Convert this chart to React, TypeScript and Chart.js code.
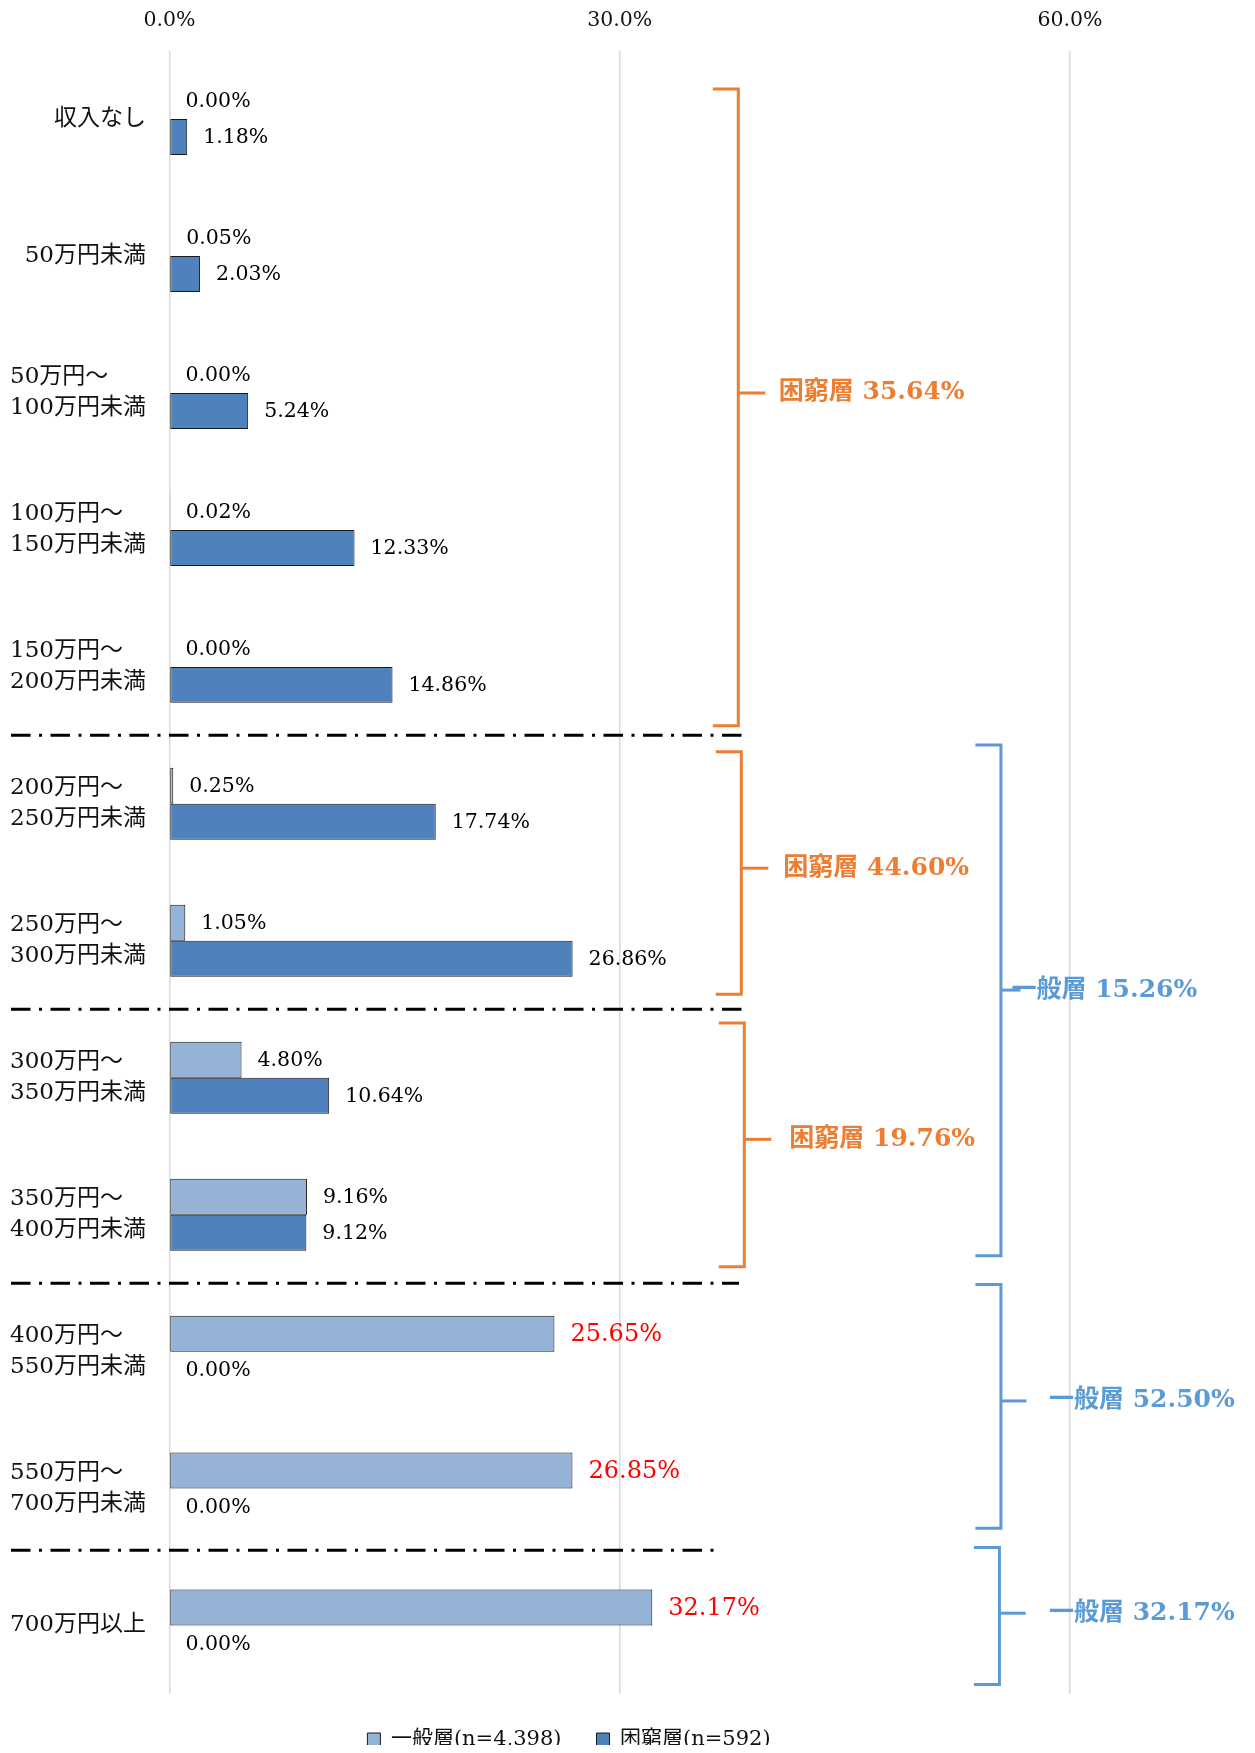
import React, { useEffect, useRef } from 'react';
import { Chart, registerables } from 'chart.js';

Chart.register(...registerables);

// ---------- data ----------
const categories: string[][] = [
  ['収入なし'],
  ['50万円未満'],
  ['50万円～', '100万円未満'],
  ['100万円～', '150万円未満'],
  ['150万円～', '200万円未満'],
  ['200万円～', '250万円未満'],
  ['250万円～', '300万円未満'],
  ['300万円～', '350万円未満'],
  ['350万円～', '400万円未満'],
  ['400万円～', '550万円未満'],
  ['550万円～', '700万円未満'],
  ['700万円以上'],
];
const generalValues = [0.0, 0.05, 0.0, 0.02, 0.0, 0.25, 1.05, 4.8, 9.16, 25.65, 26.85, 32.17];
const poorValues = [1.18, 2.03, 5.24, 12.33, 14.86, 17.74, 26.86, 10.64, 9.12, 0.0, 0.0, 0.0];
const seriesNames = ['一般層(n=4,398)', '困窮層(n=592)'];
const xTickValues = [0, 30, 60];
const xMax = 64;

// groups of categories summarised on the right (first..last index)
const poorGroups: [number, number][] = [[0, 4], [5, 6], [7, 8]];
const generalGroups: [number, number][] = [[5, 8], [9, 10], [11, 11]];
// category boundaries where the dash-dot separators are drawn
const separatorsAt = [4.5, 6.5, 8.5, 10.45];
const highlightFrom = 9; // general labels from this category drawn in red

// ---------- styling / annotation geometry ----------
const FONT = '"DejaVu Serif", "Noto Sans CJK JP", serif';
const COLOR_GENERAL = '#95B3D7';
const COLOR_POOR = '#4F81BD';
const ORANGE = '#ED7D31';
const BLUE = '#5B9BD5';

// bracket geometry in axis units (y: category value, x: percent)
const poorBracketGeom = [
  { top: -0.22, bottom: 4.43, tick: 2.0, xv: 37.9, xe: 36.2, xt: 39.7, tx: 40.6 },
  { top: 4.62, bottom: 6.39, tick: 5.47, xv: 38.1, xe: 36.4, xt: 39.9, tx: 40.9 },
  { top: 6.6, bottom: 8.38, tick: 7.45, xv: 38.3, xe: 36.6, xt: 40.1, tx: 41.3 },
];
const generalBracketGeom = [
  { top: 4.57, bottom: 8.3, tick: 6.36, xv: 55.4, xe: 53.7, xt: 56.7, tx: 56.1 },
  { top: 8.51, bottom: 10.29, tick: 9.36, xv: 55.4, xe: 53.7, xt: 57.1, tx: 58.6 },
  { top: 10.43, bottom: 11.43, tick: 10.91, xv: 55.3, xe: 53.6, xt: 57.05, tx: 58.6 },
];
const separatorEnds = [734, 734, 731, 714];

const sumRange = (arr: number[], [a, b]: [number, number]) => {
  let s = 0;
  for (let i = a; i <= b; i++) s += arr[i];
  return s;
};

const overlayPlugin = {
  id: 'overlay',
  afterDatasetsDraw(chart: any) {
    const { ctx, chartArea } = chart;
    const x = chart.scales.x;
    const y = chart.scales.y;
    ctx.save();

    // dash-dot separators
    ctx.strokeStyle = '#000';
    ctx.lineWidth = 3;
    ctx.setLineDash([19.5, 8.5, 3, 8.5]);
    separatorsAt.forEach((v, k) => {
      const py = y.getPixelForValue(v);
      ctx.beginPath();
      ctx.moveTo(3, py);
      ctx.lineTo(separatorEnds[k], py);
      ctx.stroke();
    });
    ctx.setLineDash([]);

    // data labels
    ctx.textAlign = 'left';
    ctx.textBaseline = 'middle';
    chart.data.datasets.forEach((ds: any, di: number) => {
      const meta = chart.getDatasetMeta(di);
      meta.data.forEach((el: any, i: number) => {
        const v = ds.data[i] as number;
        const red = di === 0 && i >= highlightFrom;
        ctx.font = red ? `24px ${FONT}` : `20.5px ${FONT}`;
        ctx.fillStyle = red ? '#FF0000' : '#000';
        ctx.fillText(v.toFixed(2) + '%', el.x + 16, el.y + 1);
      });
    });

    // category labels
    ctx.font = `23px ${FONT}`;
    ctx.fillStyle = '#111';
    ctx.textAlign = 'left';
    categories.forEach((lines, i) => {
      const cy = y.getPixelForValue(i);
      const maxW = Math.max(...lines.map((l) => ctx.measureText(l).width));
      const x0 = chartArea.left - 23.5 - maxW;
      const lh = 31;
      lines.forEach((l, k) => {
        ctx.fillText(l, x0, cy - ((lines.length - 1) * lh) / 2 + k * lh);
      });
    });

    // brackets
    const drawBracket = (g: any, color: string, text: string) => {
      const pt = y.getPixelForValue(g.top);
      const pb = y.getPixelForValue(g.bottom);
      const pm = y.getPixelForValue(g.tick);
      const xv = x.getPixelForValue(g.xv);
      const xe = x.getPixelForValue(g.xe);
      const xt = x.getPixelForValue(g.xt);
      ctx.strokeStyle = color;
      ctx.lineWidth = 3;
      ctx.beginPath();
      ctx.moveTo(xe, pt);
      ctx.lineTo(xv, pt);
      ctx.lineTo(xv, pb);
      ctx.lineTo(xe, pb);
      ctx.stroke();
      ctx.beginPath();
      ctx.moveTo(xv, pm);
      ctx.lineTo(xt, pm);
      ctx.stroke();
      ctx.font = `bold 25px ${FONT}`;
      ctx.fillStyle = color;
      ctx.textAlign = 'left';
      ctx.textBaseline = 'middle';
      ctx.fillText(text, x.getPixelForValue(g.tx), pm);
    };
    poorGroups.forEach((grp, k) => {
      drawBracket(poorBracketGeom[k], ORANGE, `困窮層 ${sumRange(poorValues, grp).toFixed(2)}%`);
    });
    generalGroups.forEach((grp, k) => {
      drawBracket(generalBracketGeom[k], BLUE, `一般層 ${sumRange(generalValues, grp).toFixed(2)}%`);
    });

    ctx.restore();
  },
};

export default function App() {
  const ref = useRef<HTMLCanvasElement | null>(null);

  useEffect(() => {
    if (!ref.current) return;
    const chart = new Chart(ref.current, {
      type: 'bar',
      data: {
        labels: categories,
        datasets: [
          {
            label: seriesNames[0],
            data: generalValues,
            backgroundColor: COLOR_GENERAL,
            borderColor: '#1a1a1a',
            borderWidth: 1,
            borderSkipped: false,
            categoryPercentage: 0.5255,
            barPercentage: 1,
          },
          {
            label: seriesNames[1],
            data: poorValues,
            backgroundColor: COLOR_POOR,
            borderColor: '#1a1a1a',
            borderWidth: 1,
            borderSkipped: false,
            categoryPercentage: 0.5255,
            barPercentage: 1,
          },
        ],
      },
      options: {
        indexAxis: 'y',
        animation: false,
        responsive: false,
        devicePixelRatio: 1,
        events: [],
        layout: { padding: { top: -18, left: 0, right: 117, bottom: 0 } },
        scales: {
          x: {
            position: 'top',
            min: 0,
            max: xMax,
            afterBuildTicks: (scale: any) => {
              scale.ticks = xTickValues.map((v) => ({ value: v }));
            },
            grid: { color: '#D9D9D9', lineWidth: 1.5, drawTicks: false },
            border: { display: false },
            ticks: {
              padding: 18,
              color: '#111',
              font: { family: FONT, size: 20.5 },
              callback: (v: any) => Number(v).toFixed(1) + '%',
            },
          },
          y: {
            grid: { display: false },
            border: { display: false },
            ticks: { display: false },
            afterFit: (scale: any) => {
              scale.width = 161.5;
            },
          },
        },
        plugins: {
          legend: {
            position: 'bottom',
            labels: {
              boxWidth: 13,
              boxHeight: 13,
              padding: 35,
              color: '#111',
              font: { family: FONT, size: 21 },
            },
          },
          tooltip: { enabled: false },
        },
      },
      plugins: [overlayPlugin],
    });
    return () => chart.destroy();
  }, []);

  return (
    <div style={{ width: 1239, height: 1745, overflow: 'hidden', marginBottom: -8 }}>
      <canvas ref={ref} width={1239} height={1752} style={{ display: 'block', width: 1239, height: 1752 }} />
    </div>
  );
}
